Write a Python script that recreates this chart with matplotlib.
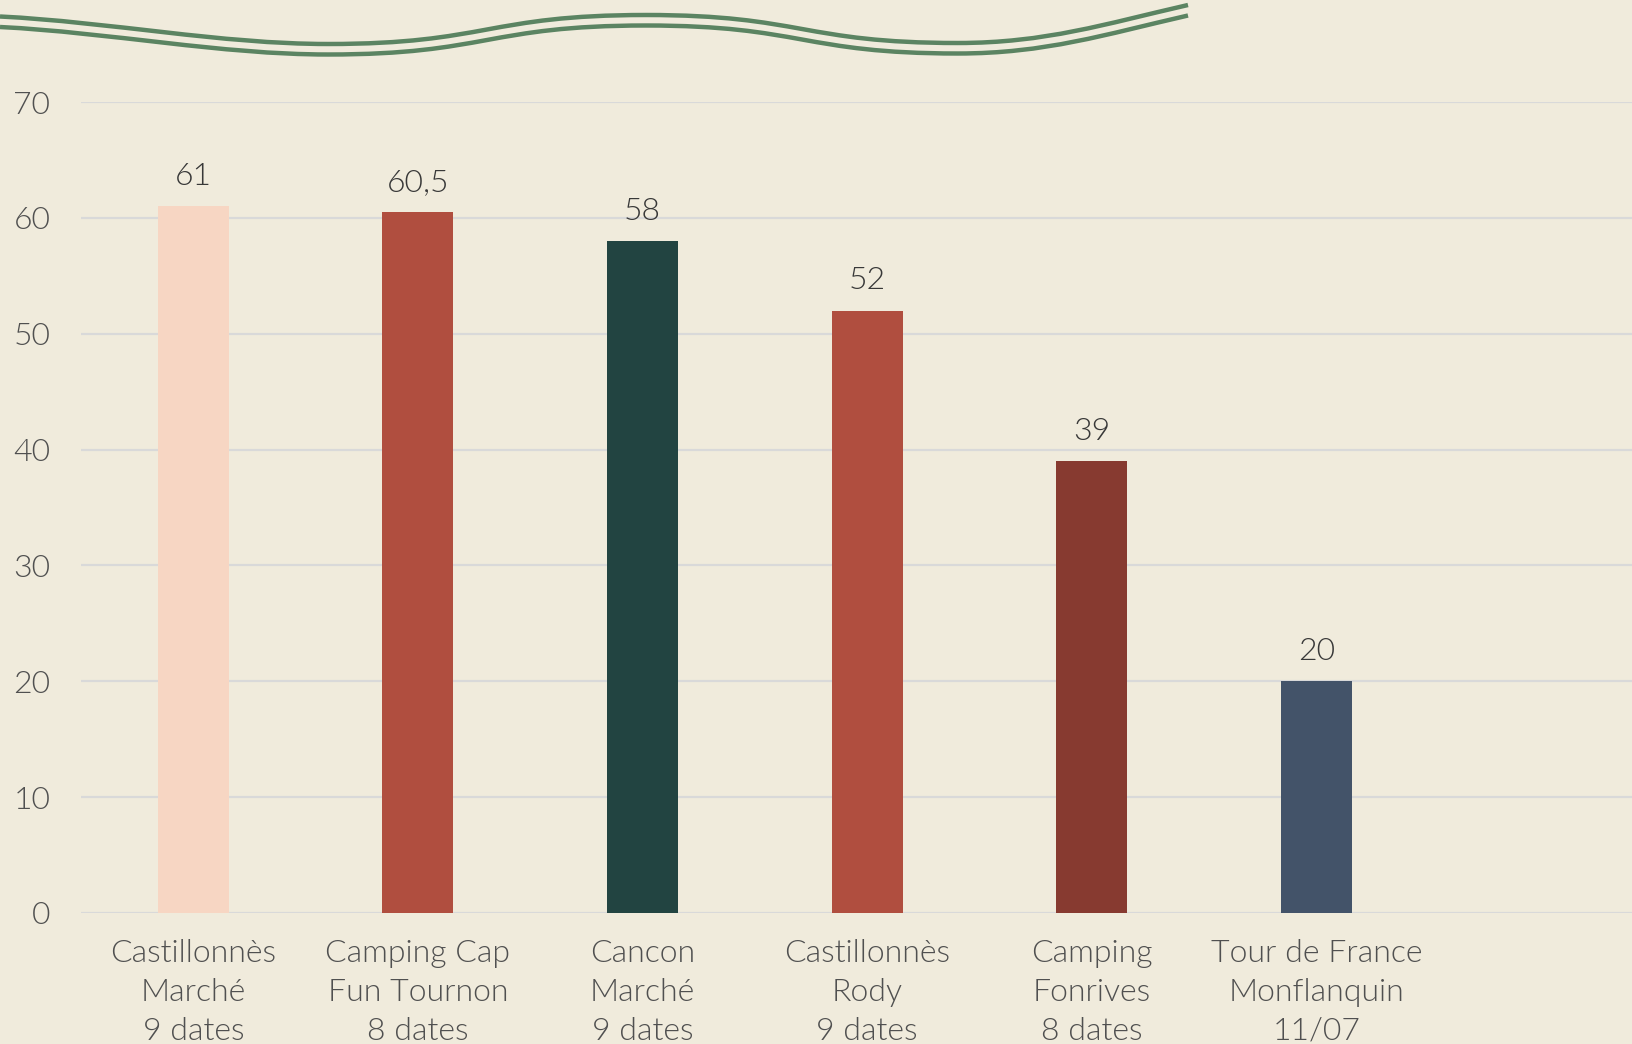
import matplotlib
matplotlib.use("Agg")
import matplotlib.pyplot as plt
from matplotlib.path import Path
from matplotlib.patches import PathPatch
import numpy as np

categories = ["Castillonnès\nMarché\n9 dates", "Camping Cap\nFun Tournon\n8 dates",
              "Cancon\nMarché\n9 dates", "Castillonnès\nRody\n9 dates",
              "Camping\nFonrives\n8 dates", "Tour de France\nMonflanquin\n11/07"]
values = [61, 60.5, 58, 52, 39, 20]
value_labels = ["61", "60,5", "58", "52", "39", "20"]
bar_colors = ["#F7D6C3", "#B04E3F", "#224441", "#B04E3F", "#873A30", "#435369"]
yticks = [0, 10, 20, 30, 40, 50, 60, 70]

BG = "#F0EBDC"
W, H = 1633, 1044
fig = plt.figure(figsize=(W / 100, H / 100), dpi=100, facecolor=BG)
plt.rcParams['font.family'] = ['Lato', 'DejaVu Sans']
FW = 300

ax = fig.add_axes([81 / W, 1 - 913 / H, 1 - 81 / W, (913 - 102) / H])
ax.set_facecolor(BG)

x = np.arange(len(categories))
ax.bar(x, values, width=0.316, color=bar_colors, zorder=3)
for xi, v, lab in zip(x, values, value_labels):
    ax.annotate(lab, (xi, v), xytext=(0, 11), textcoords="offset points",
                ha="center", va="bottom", fontsize=23, color="#383838",
                fontweight=FW)

ax.set_xlim(-0.5, 6.41)
ax.set_ylim(0, 70)
ax.set_yticks(yticks)
ax.set_yticklabels([str(t) for t in yticks], fontsize=23, color="#505050",
                   fontweight=FW)
ax.set_xticks(x)
ax.set_xticklabels(categories, fontsize=23, color="#505050", linespacing=1.42,
                   fontweight=FW)
ax.tick_params(axis="y", length=0, pad=22)
ax.tick_params(axis="x", length=0, pad=19)
ax.grid(axis="y", color="#D9D9D9", linewidth=1.6, zorder=0)
for s in ax.spines.values():
    s.set_visible(False)
ax.axhline(0, color="#D9D9D9", linewidth=1.8, zorder=2)

# decorative double wave at top (figure pixel coords, y from top)
def wave(off):
    pts = [(0, 16.5), (110, 22), (220, 44), (328, 44),
           (487, 44), (487, 15), (646, 15),
           (802, 15), (802, 43), (958, 43),
           (1045, 43), (1105, 24), (1188, 5)]
    verts = [(px / W, 1 - (py + off) / H) for px, py in pts]
    codes = [Path.MOVETO] + [Path.CURVE4] * 12
    return PathPatch(Path(verts, codes), transform=fig.transFigure,
                     fill=False, edgecolor="#5B8462", linewidth=3.2,
                     capstyle="butt")

fig.patches.append(wave(0))
fig.patches.append(wave(10.5))

fig.savefig("out.png", dpi=100, facecolor=BG)
